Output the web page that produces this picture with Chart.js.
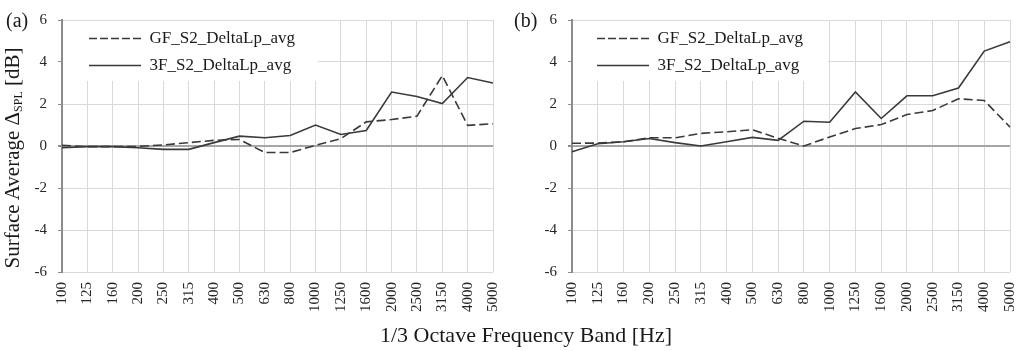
<!DOCTYPE html>
<html>
<head>
<meta charset="utf-8">
<script src="https://cdn.jsdelivr.net/npm/chart.js@4.4.1/dist/chart.umd.min.js"></script>
<style>
  body { margin: 0; background: #fff; }
  #wrap { position: relative; width: 1024px; height: 351px; overflow: hidden;
          font-family: "Liberation Serif", "Times New Roman", serif; color: #1a1a1a; }
  canvas { position: absolute; top: 0; }
  #chartA { left: 0; }
  #chartB { left: 512px; }
  .tag { position: absolute; top: 8px; font-size: 20px; line-height: 24px; }
  #ytitle { position: absolute; left: 13px; top: 158px; font-size: 21px; white-space: nowrap;
            transform: translate(-50%, -50%) rotate(-90deg); }
  #ytitle sub { font-size: 12px; vertical-align: -3px; }
  #xtitle { position: absolute; left: 0; width: 1052px; top: 323px; text-align: center;
            font-size: 22px; line-height: 24px; }
</style>
</head>
<body>
<div id="wrap">
  <canvas id="chartA" width="512" height="351"></canvas>
  <canvas id="chartB" width="512" height="351"></canvas>
  <div class="tag" style="left:6px">(a)</div>
  <div class="tag" style="left:514px">(b)</div>
  <div id="ytitle">Surface Average Δ<sub>SPL</sub> [dB]</div>
  <div id="xtitle">1/3 Octave Frequency Band [Hz]</div>
</div>
<script>
// 1/3 octave bands
const bands = ["100", "125", "160", "200", "250", "315", "400", "500", "630", "800",
               "1000", "1250", "1600", "2000", "2500", "3150", "4000", "5000"];

// (a)
const gfA = [0.03, -0.03, -0.03, -0.02, 0.05, 0.16, 0.27, 0.31, -0.31, -0.31,
             0.03, 0.35, 1.15, 1.26, 1.42, 3.35, 0.98, 1.06];
const f3A = [-0.08, -0.03, -0.03, -0.08, -0.16, -0.16, 0.16, 0.47, 0.39, 0.50,
             1.00, 0.55, 0.74, 2.57, 2.36, 2.02, 3.26, 3.00];

// (b)
const gfB = [0.13, 0.14, 0.20, 0.39, 0.39, 0.60, 0.68, 0.77, 0.37, 0.00,
             0.43, 0.83, 1.02, 1.50, 1.69, 2.25, 2.17, 0.90];
const f3B = [-0.27, 0.11, 0.20, 0.36, 0.16, 0.00, 0.20, 0.41, 0.27, 1.18,
             1.13, 2.57, 1.31, 2.39, 2.39, 2.76, 4.52, 4.96];

const names = ["GF_S2_DeltaLp_avg", "3F_S2_DeltaLp_avg"];
const dashes = [[9, 4], []];
const legendDashes = [[8, 3], []];
const yTicks = [-6, -4, -2, 0, 2, 4, 6];

Chart.defaults.font.family = '"Liberation Serif", "Times New Roman", serif';
Chart.defaults.color = "#262626";

// legend sits inside the plot on a white box, like the excel original
const legendBox = {
  id: "legendBox",
  afterLayout(chart, args, opts) {
    const lg = chart.legend, ca = chart.chartArea;
    lg.left = ca.left + opts.shift;
    lg.top = ca.top;
    lg.right = lg.left + lg.width;
    lg.bottom = lg.top + lg.height;
  },
  afterDatasetsDraw(chart, args, opts) {
    const ca = chart.chartArea, ctx = chart.ctx;
    ctx.save();
    ctx.fillStyle = "#fff";
    ctx.fillRect(ca.left + 1, ca.top + 1, opts.width, opts.height);
    ctx.restore();
    chart.legend.draw();
  }
};

function makeChart(id, gf, f3, yWidth, rightPad, shift) {
  return new Chart(document.getElementById(id), {
    type: "line",
    data: {
      labels: bands,
      datasets: [
        { label: names[0], data: gf, borderColor: "#3a3a3a", borderWidth: 1.6,
          borderDash: dashes[0], pointRadius: 0, tension: 0, fill: false },
        { label: names[1], data: f3, borderColor: "#3a3a3a", borderWidth: 1.6,
          borderDash: dashes[1], pointRadius: 0, tension: 0, fill: false }
      ]
    },
    options: {
      responsive: false,
      animation: false,
      layout: { padding: { left: 0, top: 18, right: rightPad, bottom: 0 } },
      plugins: {
        tooltip: { enabled: false },
        legend: {
          position: "chartArea",
          align: "start",
          labels: {
            usePointStyle: true,
            pointStyle: "line",
            pointStyleWidth: 52,
            padding: 10,
            color: "#1a1a1a",
            font: { size: 17 },
            generateLabels(chart) {
              const base = Chart.defaults.plugins.legend.labels.generateLabels(chart);
              return base.map((item, i) => Object.assign(item, {
                lineDash: legendDashes[i], lineWidth: 1.6, strokeStyle: "#3a3a3a"
              }));
            }
          }
        },
        legendBox: { shift: shift, width: 255, height: 60 }
      },
      scales: {
        x: {
          type: "category",
          offset: false,
          grid: { color: "#d9d9d9", lineWidth: 1, drawTicks: false },
          border: { display: false },
          ticks: { autoSkip: false, minRotation: 90, maxRotation: 90, padding: 10,
                   font: { size: 15 } },
          afterFit(scale) {
            scale.height = 79;
            scale.paddingLeft = 0;
            scale.paddingRight = 0;
          }
        },
        y: {
          min: -6,
          max: 6,
          afterBuildTicks(scale) { scale.ticks = yTicks.map(v => ({ value: v })); },
          grid: {
            color: c => (c.tick && c.tick.value === 0 ? "#a6a6a6" : "#d9d9d9"),
            lineWidth: c => (c.tick && c.tick.value === 0 ? 2 : 1),
            tickLength: 4,
            tickColor: "#8c8c8c"
          },
          border: { color: "#8c8c8c", width: 2 },
          ticks: { padding: 11, font: { size: 15 } },
          afterFit(scale) { scale.width = yWidth; }
        }
      }
    },
    plugins: [legendBox]
  });
}

makeChart("chartA", gfA, f3A, 62, 19, 17);
makeChart("chartB", gfB, f3B, 60, 14, 15);
</script>
</body>
</html>
